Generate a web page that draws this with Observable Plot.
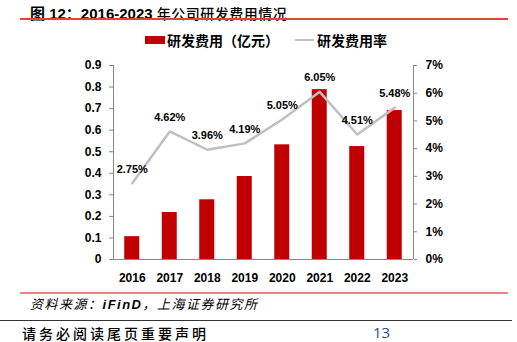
<!DOCTYPE html>
<html><head><meta charset="utf-8">
<script src="https://cdn.jsdelivr.net/npm/d3@7"></script>
<script src="https://cdn.jsdelivr.net/npm/@observablehq/plot@0.6"></script>
<style>
body{margin:0;background:#fff;}
#wrap{position:relative;width:517px;height:342px;overflow:hidden;font-family:"Liberation Sans","Noto Sans CJK SC",sans-serif;}
.abs{position:absolute;white-space:nowrap;}
</style></head>
<body><div id="wrap">
<div class="abs" style="left:30px;top:2px;font-size:15px;font-weight:bold;color:#000;">图 12：2016-2023 <span style="font-weight:500;font-family:'Noto Sans CJK SC';font-size:14px;letter-spacing:0.5px;">年公司研发费用情况</span></div>
<div class="abs" style="left:20px;top:18px;width:488px;height:1.5px;background:#e8403a;"></div>
<div class="abs" style="left:145px;top:36px;width:20px;height:8px;background:#C00000;"></div>
<div class="abs" style="left:167px;top:30px;font-size:14px;font-weight:bold;font-family:'Noto Sans CJK SC';">研发费用（亿元）</div>
<div class="abs" style="left:295px;top:39px;width:19px;height:2px;background:#BFBFBF;"></div>
<div class="abs" style="left:317px;top:30px;font-size:14px;font-weight:bold;font-family:'Noto Sans CJK SC';">研发费用率</div>
<div id="chart" class="abs" style="left:0;top:55px;"></div>
<div class="abs" style="left:20px;top:292px;width:488px;height:1.5px;background:#f08080;"></div>
<div class="abs" style="left:30px;top:294px;font-size:13px;font-style:italic;letter-spacing:1.5px;font-family:'Noto Sans CJK SC';">资料来源：<b style="font-family:'Liberation Sans';">iFinD</b>，上海证券研究所</div>
<div class="abs" style="left:0;top:320px;width:512px;height:1px;background:#333;"></div>
<div class="abs" style="left:22px;top:323px;font-size:14px;font-weight:500;letter-spacing:3px;font-family:'Noto Sans CJK SC';">请务必阅读尾页重要声明</div>
<div class="abs" style="left:373px;top:322px;font-size:15px;color:#1f4e8c;font-family:'Open Sans';">13</div>
</div>
<script>
const years = [2016, 2017, 2018, 2019, 2020, 2021, 2022, 2023];
const rdExpense = [0.106, 0.218, 0.277, 0.385, 0.532, 0.788, 0.524, 0.691];
const rdRate = [2.75, 4.62, 3.96, 4.19, 5.05, 6.05, 4.51, 5.48];
const leftTicks = [0, 0.1, 0.2, 0.3, 0.4, 0.5, 0.6, 0.7, 0.8, 0.9];
const rightTicks = [0, 1, 2, 3, 4, 5, 6, 7];

const yMax = 0.9, rMax = 7;
const toY = r => r / rMax * yMax;
const data = years.map((y, i) => ({year: y, v: rdExpense[i], r: rdRate[i], ry: toY(rdRate[i])}));

const chart = Plot.plot({
  width: 517, height: 235,
  marginLeft: 113, marginRight: 104, marginTop: 10, marginBottom: 31,
  style: {fontFamily: "Liberation Sans, sans-serif", fontSize: "12px", fontWeight: "bold", color: "#000", background: "transparent"},
  x: {domain: [2015.5, 2023.5], axis: null},
  y: {domain: [0, yMax], axis: null},
  marks: [
    Plot.rectY(data, {x1: d => d.year - 0.2, x2: d => d.year + 0.2, y: "v", fill: "#C00000"}),
    Plot.ruleY([0], {stroke: "#888", strokeWidth: 1}),
    Plot.ruleX([2015.5, 2023.5], {y1: 0, y2: yMax, stroke: "#888", strokeWidth: 1}),
    Plot.axisY(leftTicks, {anchor: "left", tickSize: 4, tickPadding: 8, stroke: "#888", tickFormat: d => d === 0 ? "0" : d.toFixed(1), label: null, fontWeight: "bold"}),
    Plot.axisY(rightTicks.map(toY), {anchor: "right", tickSize: 3, tickPadding: 9, stroke: "#888", tickFormat: d => Math.round(d / yMax * rMax) + "%", label: null}),
    Plot.axisX(years, {anchor: "bottom", tickSize: 0, tickPadding: 14, tickFormat: d => String(d), label: null}),
    Plot.line(data, {x: "year", y: "ry", stroke: "#BFBFBF", strokeWidth: 2.5}),
    Plot.text(data, {x: "year", y: "ry", text: d => d.r.toFixed(2) + "%", dy: -14, fontSize: 11, fontWeight: "bold", fill: "#000"})
  ]
});
document.getElementById("chart").appendChild(chart);
</script>
</body></html>
